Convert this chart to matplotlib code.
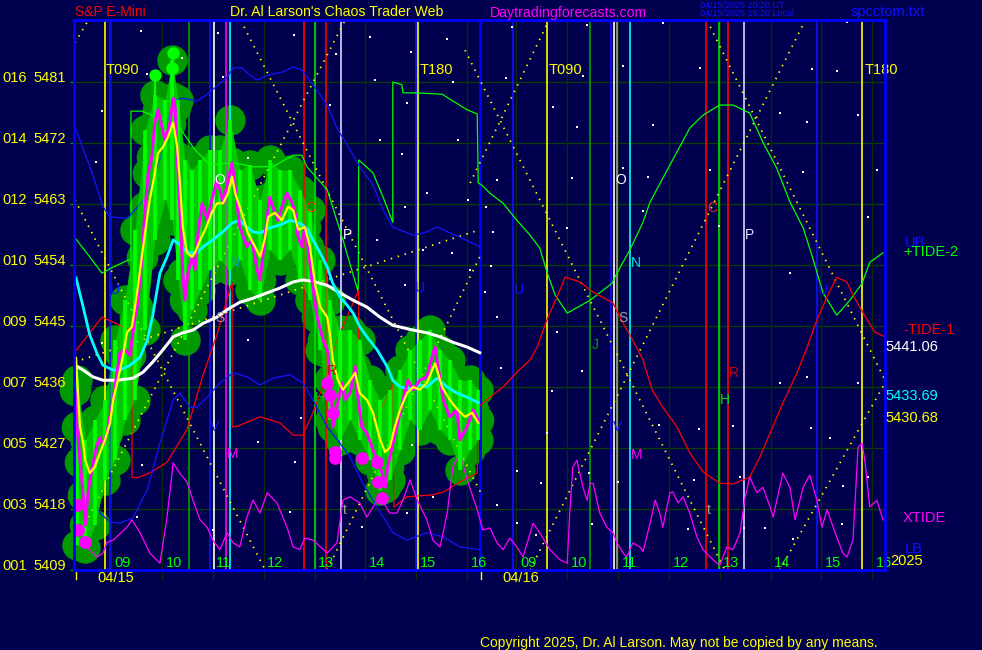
import matplotlib
matplotlib.use('Agg')
import matplotlib.pyplot as plt
from matplotlib.transforms import blended_transform_factory

plt.rcParams['font.family'] = ['Liberation Sans', 'DejaVu Sans']

BG = '#00004e'
W, H = 982, 650

# ---------------- axis definitions ----------------
x_min, x_max = 0.0, 15.95          # hours since 08:15 on 04/15 (two sessions)
y_min, y_max = 5409.0, 5490.15
grid_prices = [5409, 5418, 5427, 5436, 5445, 5454, 5463, 5472, 5481]
grid_codes = ['001', '003', '005', '007', '009', '010', '012', '014', '016']
hour_labels = ['09', '10', '11', '12', '13', '14', '15', '16']
hour_values = [9, 10, 11, 12, 13, 14, 15, 16]
day1_offset = 8.27
day2_offset = 0.30
day_starts = [0.03, 8.0]
day_names = ['04/15', '04/16']
day_label_x = [0.45, 8.42]

# ---------------- series ----------------
tide2_x = [0.02, 0.28, 0.55, 0.77, 1.06, 1.12, 1.12, 1.34, 1.53, 1.79, 2.08, 2.38, 2.67, 3.13, 3.52, 3.91,
           4.31, 4.48, 4.58, 4.98, 5.29, 5.59, 5.60, 5.88, 6.08, 6.27, 6.27, 6.45, 6.47, 6.71, 7.24, 7.73,
           7.93, 7.95, 8.02, 8.18, 8.44, 8.71, 8.97, 9.16, 9.30, 9.46, 9.70, 9.89, 10.15, 10.58, 10.68,
           10.93, 11.19, 11.33, 11.58, 11.86, 12.11, 12.37, 12.70, 12.96, 13.16, 13.29, 13.55, 13.82,
           14.08, 14.34, 14.53, 14.73, 15.00, 15.26, 15.50, 15.65, 15.91]
tide2_y = [5458.0, 5455.5, 5452.8, 5453.7, 5454.7, 5454.7, 5476.7, 5476.7, 5476.1, 5475.4, 5474.2, 5471.0,
           5468.8, 5469.1, 5468.5, 5468.5, 5470.2, 5470.2, 5468.5, 5465.1, 5457.7, 5450.0, 5469.5, 5467.6,
           5464.0, 5460.3, 5481.0, 5480.6, 5479.4, 5479.4, 5479.2, 5476.9, 5476.3, 5466.1, 5465.8, 5464.6,
           5463.1, 5460.6, 5458.4, 5456.5, 5453.0, 5449.6, 5446.9, 5447.7, 5448.8, 5451.3, 5452.8, 5456.2,
           5460.3, 5463.3, 5466.8, 5470.7, 5474.2, 5476.1, 5477.6, 5477.6, 5476.9, 5476.4, 5472.1, 5468.3,
           5463.3, 5459.5, 5455.0, 5449.9, 5446.6, 5448.8, 5451.3, 5454.4, 5455.8]

tide1_x = [0.02, 0.55, 0.77, 1.00, 1.14, 1.14, 1.24, 1.49, 1.83, 2.22, 2.54, 2.81, 3.09, 3.11, 3.11, 3.21,
           3.66, 4.05, 4.31, 4.50, 4.70, 4.94, 5.17, 5.43, 5.60, 5.60, 5.96, 6.27, 6.29, 6.55, 7.06, 7.26,
           7.59, 7.93, 7.95, 8.18, 8.44, 8.71, 8.97, 9.11, 9.30, 9.50, 9.66, 9.95, 10.21, 10.60, 10.80,
           10.99, 11.19, 11.37, 11.58, 11.86, 12.11, 12.37, 12.70, 12.96, 13.16, 13.29, 13.49, 13.69,
           13.94, 14.22, 14.42, 14.61, 14.81, 15.00, 15.20, 15.32, 15.52, 15.75, 15.95]
tide1_y = [5441.2, 5446.3, 5445.6, 5444.7, 5444.4, 5422.7, 5422.6, 5423.3, 5424.9, 5429.7, 5437.8, 5443.7,
           5451.0, 5451.3, 5430.1, 5430.2, 5431.6, 5430.7, 5428.9, 5428.9, 5432.2, 5437.0, 5442.9, 5447.4,
           5450.3, 5429.9, 5431.6, 5436.3, 5418.3, 5419.8, 5420.1, 5420.5, 5422.0, 5423.3, 5433.0, 5434.5,
           5436.0, 5438.2, 5440.0, 5441.9, 5445.9, 5449.3, 5452.2, 5451.5, 5450.0, 5448.4, 5445.4, 5442.9,
           5440.0, 5435.6, 5433.0, 5430.1, 5426.3, 5423.5, 5421.8, 5421.7, 5422.3, 5422.7, 5425.7, 5429.2,
           5433.6, 5438.1, 5441.9, 5445.9, 5449.3, 5452.2, 5451.5, 5449.6, 5446.9, 5444.1, 5443.4]

band_hi_x = [0.02, 0.26, 0.37, 0.57, 0.71, 1.04, 1.30, 1.49, 1.69, 1.85, 1.95, 2.14, 2.42, 2.62, 2.81,
             3.01, 3.13, 3.30, 3.46, 3.60, 3.80, 4.11, 4.31, 4.48, 4.70, 4.98, 5.17, 5.43, 5.62, 5.88,
             6.08, 6.27, 6.67, 6.94, 7.14, 7.59, 7.98]
band_hi_y = [5474.4, 5469.5, 5467.3, 5462.6, 5461.1, 5460.9, 5462.9, 5465.1, 5469.5, 5475.4, 5478.3,
             5478.6, 5478.2, 5479.2, 5480.4, 5481.7, 5483.1, 5483.1, 5482.0, 5481.3, 5482.0, 5482.5,
             5483.2, 5482.8, 5480.6, 5477.6, 5474.2, 5471.0, 5468.5, 5465.8, 5462.1, 5459.6, 5458.4,
             5458.9, 5459.6, 5458.1, 5456.7]

band_lo_x = [0.37, 0.51, 0.71, 0.90, 1.16, 1.44, 1.69, 1.95, 2.08, 2.28, 2.42, 2.62, 2.87, 3.13, 3.40,
             3.66, 3.91, 4.25, 4.50, 4.70, 4.98, 5.23, 5.43, 5.68, 5.96, 6.27, 6.55, 6.94, 7.26, 7.59, 7.98]
band_lo_y = [5419.3, 5417.4, 5416.1, 5415.9, 5416.7, 5420.8, 5427.7, 5434.1, 5435.1, 5433.0, 5433.0,
             5434.5, 5436.6, 5438.1, 5437.5, 5436.3, 5437.3, 5437.8, 5436.6, 5434.1, 5430.1, 5427.7,
             5425.7, 5421.8, 5418.3, 5414.5, 5413.4, 5414.5, 5413.9, 5412.4, 5412.0]

xtide_x = [0.22, 0.45, 0.57, 0.65, 0.77, 1.04, 1.14, 1.30, 1.49, 1.69, 1.83, 1.95, 2.08, 2.22, 2.34, 2.48,
           2.62, 2.73, 2.87, 3.01, 3.13, 3.26, 3.40, 3.52, 3.66, 3.80, 3.99, 4.19, 4.31, 4.44, 4.54, 4.70,
           4.98, 5.17, 5.29, 5.43, 5.62, 5.76, 5.88, 6.02, 6.21, 6.35, 6.47, 6.61, 6.75, 6.94, 7.06, 7.20,
           7.34, 7.45, 7.59, 7.73, 7.93, 8.04, 8.18, 8.32, 8.44, 8.57, 8.71, 8.83, 9.03, 9.16, 9.36, 9.56,
           9.70, 9.75, 9.81, 9.89, 10.01, 10.09, 10.15, 10.21, 10.34, 10.48, 10.60, 10.68, 10.80, 10.87,
           10.99, 11.13, 11.19, 11.33, 11.43, 11.52, 11.58, 11.72, 11.78, 11.88, 11.98, 12.11, 12.25,
           12.37, 12.57, 12.70, 12.84, 12.96, 13.10, 13.20, 13.29, 13.43, 13.55, 13.69, 13.75, 13.94,
           14.08, 14.18, 14.34, 14.47, 14.61, 14.71, 14.81, 14.93, 15.12, 15.20, 15.32, 15.42, 15.50,
           15.56, 15.65, 15.79, 15.91]
xtide_y = [5412.7, 5410.9, 5411.5, 5413.1, 5413.4, 5415.3, 5416.4, 5414.5, 5411.5, 5410.0, 5416.8, 5424.8,
           5423.3, 5422.0, 5419.3, 5416.4, 5415.3, 5413.4, 5412.0, 5414.5, 5413.0, 5412.4, 5416.8, 5419.3,
           5417.4, 5420.4, 5418.9, 5415.3, 5412.4, 5412.0, 5413.7, 5413.4, 5411.5, 5413.0, 5419.3, 5419.8,
           5418.9, 5416.8, 5418.3, 5419.8, 5417.4, 5417.4, 5419.3, 5422.3, 5419.3, 5416.4, 5413.4, 5412.4,
           5417.4, 5424.2, 5426.3, 5422.3, 5417.9, 5414.9, 5415.2, 5413.0, 5412.0, 5413.7, 5412.4, 5410.9,
           5415.9, 5414.5, 5412.0, 5410.5, 5410.0, 5417.4, 5424.2, 5425.2, 5421.2, 5419.3, 5421.8, 5421.8,
           5417.4, 5415.3, 5414.5, 5413.0, 5411.5, 5410.9, 5413.0, 5412.4, 5411.7, 5415.9, 5419.3, 5417.4,
           5415.3, 5420.4, 5420.5, 5418.9, 5419.8, 5417.4, 5413.9, 5412.0, 5410.5, 5409.7, 5412.4, 5412.0,
           5414.5, 5419.8, 5422.7, 5420.4, 5421.2, 5418.3, 5416.8, 5423.3, 5421.2, 5416.4, 5421.2, 5423.0,
           5419.3, 5415.3, 5417.9, 5415.3, 5411.5, 5410.9, 5413.4, 5427.1, 5427.7, 5424.8, 5418.3, 5419.3,
           5416.4]

price_x = [0.02, 0.06, 0.12, 0.18, 0.22, 0.28, 0.35, 0.45, 0.51, 0.57, 0.65, 0.77, 0.90, 1.00, 1.10, 1.20,
           1.24, 1.34, 1.40, 1.46, 1.53, 1.59, 1.65, 1.73, 1.79, 1.89, 1.95, 1.99, 2.03, 2.08, 2.14, 2.18,
           2.24, 2.32, 2.38, 2.44, 2.52, 2.62, 2.71, 2.81, 2.87, 2.93, 3.03, 3.11, 3.17, 3.26, 3.40, 3.50,
           3.60, 3.66, 3.72, 3.80, 3.85, 3.91, 4.01, 4.11, 4.19, 4.29, 4.35, 4.41, 4.48, 4.54, 4.60, 4.68,
           4.78, 4.90, 5.00, 5.03, 5.07, 5.09, 5.17, 5.27, 5.33, 5.43, 5.53, 5.59, 5.66, 5.76, 5.86, 5.96,
           6.06, 6.12, 6.17, 6.27, 6.35, 6.47, 6.57, 6.67, 6.80, 6.94, 7.04, 7.10, 7.16, 7.26, 7.39, 7.53,
           7.59, 7.73, 7.85, 7.95]
price_y = [5435.6, 5430.1, 5424.9, 5420.1, 5415.6, 5420.8, 5423.8, 5427.4, 5428.5, 5427.4, 5429.2, 5434.1,
           5441.0, 5441.5, 5440.7, 5446.3, 5447.8, 5455.2, 5462.6, 5467.6, 5469.9, 5475.0, 5476.9, 5474.4,
           5472.4, 5475.0, 5478.6, 5477.3, 5469.9, 5462.6, 5452.8, 5448.8, 5452.8, 5455.2, 5453.3, 5458.7,
           5463.1, 5460.6, 5463.6, 5466.5, 5465.1, 5463.1, 5466.5, 5469.1, 5465.5, 5459.6, 5456.7, 5457.7,
           5453.3, 5451.8, 5455.8, 5461.1, 5464.0, 5462.6, 5460.6, 5463.1, 5464.6, 5463.1, 5461.7, 5458.1,
           5456.7, 5459.6, 5456.7, 5451.8, 5446.3, 5442.9, 5441.0, 5437.0, 5433.0, 5430.1, 5433.0, 5436.6,
           5434.1, 5435.1, 5439.0, 5434.1, 5430.1, 5429.2, 5427.1, 5425.2, 5423.3, 5421.2, 5424.2, 5427.7,
           5430.1, 5434.1, 5437.0, 5435.6, 5437.0, 5437.5, 5440.4, 5441.9, 5439.0, 5434.1, 5431.6, 5432.6,
           5428.2, 5430.1, 5432.6, 5431.1]

bar_x = [0.06, 0.22, 0.41, 0.61, 0.81, 1.00, 1.20, 1.40, 1.59, 1.79, 1.93, 2.05, 2.18, 2.32, 2.48, 2.67,
         2.87, 3.07, 3.26, 3.46, 3.66, 3.85, 4.05, 4.25, 4.44, 4.64, 4.84, 5.03, 5.23, 5.43, 5.62, 5.82,
         6.02, 6.21, 6.41, 6.61, 6.80, 7.00, 7.20, 7.39, 7.59, 7.79, 7.95]
bar_hi = [5437.0, 5428.2, 5431.1, 5434.1, 5442.9, 5448.8, 5459.2, 5473.9, 5479.1, 5478.3, 5484.2, 5478.3,
          5469.5, 5468.0, 5469.5, 5471.0, 5471.0, 5475.4, 5468.0, 5468.8, 5463.6, 5469.5, 5468.0, 5468.0,
          5465.1, 5462.1, 5454.7, 5448.8, 5444.4, 5444.4, 5442.9, 5437.0, 5434.1, 5435.6, 5438.5, 5441.5,
          5442.9, 5444.4, 5441.5, 5440.0, 5437.0, 5437.0, 5435.6]
bar_lo = [5412.7, 5412.2, 5415.6, 5422.3, 5425.2, 5431.1, 5434.1, 5444.4, 5457.7, 5463.6, 5460.6, 5451.8,
          5442.9, 5447.4, 5450.3, 5453.3, 5454.7, 5453.3, 5454.7, 5450.3, 5448.8, 5456.2, 5454.7, 5456.2,
          5451.8, 5448.8, 5441.5, 5431.1, 5428.2, 5431.1, 5428.2, 5425.2, 5420.8, 5422.3, 5426.7, 5431.1,
          5429.7, 5432.6, 5429.7, 5428.2, 5423.8, 5426.7, 5428.2]

fast_x = [0.04, 0.08, 0.12, 0.18, 0.22, 0.31, 0.41, 0.51, 0.61, 0.71, 0.77, 0.85, 0.96, 1.04, 1.14, 1.24,
          1.36, 1.49, 1.59, 1.65, 1.75, 1.85, 1.95, 2.03, 2.08, 2.14, 2.22, 2.32, 2.38, 2.48, 2.58, 2.71,
          2.81, 2.93, 3.03, 3.11, 3.17, 3.30, 3.42, 3.56, 3.66, 3.76, 3.82, 3.95, 4.09, 4.21, 4.31, 4.41,
          4.54, 4.64, 4.74, 4.84, 4.98, 5.03, 5.09, 5.19, 5.29, 5.43, 5.53, 5.62, 5.76, 5.88, 6.02, 6.12,
          6.21, 6.31, 6.41, 6.55, 6.67, 6.80, 6.94, 7.10, 7.24, 7.39, 7.55, 7.69, 7.83, 7.95]
fast_y = [5440.3, 5434.8, 5430.1, 5427.7, 5425.2, 5423.3, 5424.2, 5426.3, 5428.2, 5430.7, 5434.1, 5436.6,
          5440.4, 5444.0, 5444.9, 5449.9, 5456.7, 5463.6, 5467.6, 5470.5, 5471.4, 5472.9, 5475.0, 5471.4,
          5466.5, 5459.6, 5455.8, 5455.2, 5455.8, 5457.7, 5459.2, 5461.7, 5463.1, 5463.1, 5464.6, 5467.0,
          5464.6, 5461.7, 5458.7, 5456.7, 5455.2, 5458.1, 5461.1, 5461.7, 5460.6, 5462.6, 5462.1, 5459.2,
          5459.6, 5456.7, 5451.3, 5447.8, 5446.3, 5444.0, 5440.0, 5437.0, 5435.6, 5437.0, 5438.1, 5435.1,
          5434.1, 5432.2, 5428.2, 5426.4, 5427.1, 5430.1, 5432.6, 5435.1, 5436.0, 5435.6, 5436.6, 5439.5,
          5436.0, 5434.1, 5432.6, 5431.6, 5432.2, 5430.68]

mid_x = [0.04, 0.18, 0.31, 0.45, 0.57, 0.77, 0.90, 1.10, 1.30, 1.44, 1.55, 1.69, 1.83, 1.95, 2.05, 2.18,
         2.28, 2.42, 2.54, 2.73, 2.93, 3.11, 3.26, 3.40, 3.52, 3.66, 3.85, 4.05, 4.25, 4.39, 4.50, 4.60,
         4.70, 4.84, 4.98, 5.09, 5.23, 5.37, 5.49, 5.62, 5.76, 5.96, 6.16, 6.27, 6.41, 6.61, 6.80, 6.94,
         7.14, 7.34, 7.53, 7.73, 7.95]
mid_y = [5452.1, 5447.8, 5443.7, 5441.0, 5439.2, 5438.5, 5438.5, 5439.2, 5440.4, 5442.9, 5446.6, 5452.8,
         5455.2, 5457.7, 5457.2, 5456.2, 5455.8, 5455.8, 5456.7, 5457.7, 5458.9, 5460.2, 5460.6, 5459.6,
         5458.9, 5458.7, 5459.5, 5459.9, 5460.6, 5460.3, 5459.9, 5459.2, 5457.7, 5455.8, 5453.7, 5451.3,
         5449.3, 5448.1, 5446.9, 5444.9, 5443.4, 5441.5, 5439.0, 5437.0, 5436.0, 5435.8, 5436.3, 5436.0,
         5437.3, 5436.0, 5435.1, 5434.5, 5433.69]

slow_x = [0.02, 0.18, 0.37, 0.57, 0.85, 1.16, 1.36, 1.55, 1.75, 1.95, 2.14, 2.34, 2.54, 2.81, 3.01, 3.26,
          3.52, 3.80, 4.05, 4.31, 4.50, 4.70, 4.98, 5.23, 5.49, 5.76, 6.02, 6.27, 6.67, 6.94, 7.20, 7.45,
          7.73, 7.98]
slow_y = [5439.2, 5438.5, 5437.5, 5437.0, 5437.0, 5437.3, 5438.2, 5439.7, 5441.5, 5443.4, 5444.0, 5444.4,
          5445.4, 5446.3, 5447.4, 5448.5, 5449.1, 5449.9, 5450.6, 5451.5, 5451.8, 5451.6, 5451.0, 5449.9,
          5448.8, 5447.8, 5446.3, 5445.1, 5444.4, 5444.0, 5443.4, 5442.6, 5441.9, 5441.06]

low_mark_x = [0.06, 0.08, 0.22, 4.98, 5.03, 5.09, 5.13, 5.13, 5.66, 5.96, 5.98, 6.06]
low_mark_y = [5418.6, 5414.9, 5413.1, 5436.6, 5434.8, 5432.2, 5426.4, 5425.5, 5425.5, 5424.9, 5422.0, 5419.6]

high_mark_x = [1.59, 1.95, 1.93]
high_mark_y = [5482.0, 5485.3, 5483.1]
high_mark_base = [5479.1, 5478.3, 5478.3]

# timing lines (hours) and their colours
vline_x = [0.60, 0.71, 2.26, 2.67, 2.76, 2.98, 3.07, 4.53, 4.73, 4.96, 5.26, 6.73, 6.77,
           8.64, 9.31, 10.15, 10.57, 10.63, 10.68, 10.94, 12.43, 12.69, 12.87, 13.18, 14.62, 15.50]
vline_c = ['#ffff00', '#1010ff', '#00a000', '#1010ff', '#ffffff', '#ff00ff', '#00ffff', '#ff0000',
           '#00e000', '#ff0000', '#d8d8ff', '#1010ff', '#ffff00',
           '#1010ff', '#ffff00', '#00a000', '#1010ff', '#ffffff', '#a0a0a0', '#00ffff', '#ff0000',
           '#00e000', '#ff0000', '#d8d8ff', '#1010ff', '#ffff00']

# dotted angle lines: (x0, y0, x1, y1)
ang_x0 = [0.02, 0.02, 0.02, 3.28, 0.02, 4.98, 7.69, 7.79, 8.97, 12.45, 13.88]
ang_y0 = [5486.8, 5463.6, 5413.0, 5490.1, 5439.7, 5409.0, 5485.7, 5466.1, 5409.0, 5490.1, 5409.0]
ang_x1 = [0.28, 3.76, 5.33, 8.02, 7.98, 7.98, 12.80, 9.34, 14.38, 15.95, 15.95]
ang_y1 = [5490.1, 5409.0, 5490.1, 5420.1, 5459.2, 5455.2, 5409.0, 5490.1, 5490.1, 5437.0, 5436.6]

# scattered event dots
dot_x = [1.32, 2.83, 4.33, 5.82, 7.34, 8.61, 10.09, 11.58, 15.20, 0.55, 1.44, 2.12, 2.93, 5.15, 6.63,
         5.92, 7.45, 6.55, 5.03, 6.02, 7.55, 6.45, 0.43, 3.42, 0.55, 1.34, 3.42, 4.46, 3.62, 4.35, 6.65,
         7.06, 8.32, 4.25, 2.73, 1.24, 5.66, 6.55, 6.94, 7.75, 6.51, 8.24, 5.96, 6.86, 7.43, 6.51, 7.79,
         8.08, 8.32, 8.50, 10.01, 9.42, 9.89, 11.39, 13.88, 14.42, 15.42, 10.80, 12.51, 14.34, 15.79,
         8.32, 9.79, 11.29, 8.10, 15.61, 9.70, 12.68, 11.19, 8.20, 14.08, 9.50, 8.40, 9.99, 9.40, 9.30,
         11.50, 12.29, 12.96, 14.49, 15.42, 14.42, 13.88, 14.87, 8.71, 9.18, 10.13, 10.70, 12.19, 13.10,
         15.12, 15.61, 8.71, 9.09, 10.19, 12.07, 13.59, 14.14, 15.10, 13.18, 10.80, 12.31, 14.51, 15.00]
dot_y = [5488.5, 5488.2, 5487.9, 5487.6, 5487.3, 5489.1, 5489.4, 5489.7, 5489.9, 5476.7, 5482.2, 5484.5,
         5481.7, 5485.1, 5485.4, 5481.3, 5481.0, 5477.9, 5477.6, 5472.4, 5472.4, 5470.4, 5469.2, 5469.8,
         5442.5, 5424.5, 5442.9, 5431.4, 5427.9, 5424.9, 5427.4, 5419.8, 5418.6, 5417.6, 5414.9, 5416.8,
         5415.3, 5417.4, 5464.6, 5463.6, 5462.6, 5458.9, 5457.7, 5456.2, 5455.8, 5451.0, 5453.3, 5450.0,
         5446.3, 5481.6, 5481.9, 5477.3, 5474.4, 5474.7, 5476.4, 5475.1, 5476.1, 5468.3, 5468.0, 5467.7,
         5468.0, 5466.5, 5466.8, 5467.0, 5462.6, 5461.1, 5459.5, 5459.8, 5462.0, 5453.9, 5452.8, 5444.1,
         5438.8, 5438.4, 5435.4, 5429.2, 5430.4, 5429.8, 5430.2, 5429.9, 5436.6, 5437.5, 5436.6, 5428.5,
         5423.6, 5421.8, 5423.3, 5422.0, 5422.3, 5422.7, 5421.4, 5422.7, 5415.9, 5414.2, 5415.8, 5415.1,
         5415.2, 5413.6, 5415.8, 5415.2, 5483.4, 5483.1, 5482.9, 5482.6]

# annotation letters: text, x(hours), price, colour
let_t = ['O', 'P', 'C', 'U', 'U', 'N', 'S', 'M', 'R', 'H', 't', 'V',
         'O', 'N', 'C', 'P', 'U', 'U', 'S', 'J', 'R', 'H', 'V', 'M', 't']
let_x = [2.87, 5.37, 4.64, 0.81, 6.80, 3.17, 2.87, 3.11, 5.07, 4.84, 5.33, 2.77,
         10.76, 11.05, 12.55, 13.29, 8.75, 14.73, 10.80, 10.25, 12.98, 12.80, 10.70, 11.07, 12.49]
let_y = [5466.5, 5458.4, 5462.4, 5450.3, 5450.6, 5454.3, 5446.2, 5426.1, 5438.3, 5434.4, 5417.9, 5430.1,
         5466.5, 5454.3, 5462.4, 5458.4, 5450.3, 5450.3, 5446.2, 5442.2, 5438.1, 5434.1, 5430.1, 5426.0,
         5417.9]
let_c = ['#ffffff', '#ffffff', '#ff2020', '#1010ff', '#1010ff', '#00a0a0', '#a0a0a0', '#ff00ff', '#d00000',
         '#00c000', '#a0a0a0', '#1010ff',
         '#ffffff', '#00e0e0', '#ff2020', '#e0e0ff', '#1010ff', '#1010ff', '#a0a0a0', '#00a000', '#d00000',
         '#00e000', '#1010ff', '#ff00ff', '#a0a0a0']

cycle_t = ['T090', 'T180', 'T090', 'T180']
cycle_x = [0.62, 6.80, 9.34, 15.54]
cycle_y = 5482.8

# ---------------- figure ----------------
fig = plt.figure(figsize=(W / 100, H / 100), dpi=100, facecolor=BG)
ax = fig.add_axes([74 / W, 80 / H, 811 / W, 550 / H])
ax.set_facecolor(BG)
ax.set_xlim(x_min, x_max)
ax.set_ylim(y_min, y_max)

hour_x = [h - day1_offset for h in hour_values] + [h - day2_offset for h in hour_values]

# grid
for p in grid_prices:
    ax.axhline(p, color='#0b3d0b', lw=1.0, zorder=1)
for hx in hour_x:
    ax.axvline(hx, color='#0a2a0a', lw=1.0, zorder=1)

ax.set_xticks(hour_x)
ax.set_yticks(grid_prices)
ax.tick_params(axis='x', length=7, width=1, color='#0a2a0a', labelbottom=False)
ax.tick_params(axis='y', length=3, width=1, color='#00a000', labelleft=False)

# price blobs (dark green)
blob_c = '#009a00'
ax.scatter(price_x, price_y, s=520, color=blob_c, lw=0, zorder=3, clip_on=False)
ax.scatter(bar_x, bar_hi, s=480, color=blob_c, lw=0, zorder=3, clip_on=False)
ax.scatter(bar_x, bar_lo, s=480, color=blob_c, lw=0, zorder=3, clip_on=False)
ax.fill_between(bar_x, bar_lo, bar_hi, color=blob_c, lw=0, zorder=3)

# timing lines
for vx, vc in zip(vline_x, vline_c):
    ax.axvline(vx, color=vc, lw=1.2, zorder=4)
ax.axvline(7.99, color='#0000ff', lw=2.0, zorder=4)

# dotted angle lines
for x0, y0, x1, y1 in zip(ang_x0, ang_y0, ang_x1, ang_y1):
    ax.plot([x0, x1], [y0, y1], color='#ffff00', lw=1.3, ls=(0, (0.8, 3.2)), zorder=4)

# event dots
ax.scatter(dot_x, dot_y, s=2.5, marker='s', color='#ffffff', lw=0, zorder=4)

# tides and bands
ax.plot(tide2_x, tide2_y, color='#00ff00', lw=0.9, zorder=5)
ax.plot(tide1_x, tide1_y, color='#ff0000', lw=0.9, zorder=5)
ax.plot(band_hi_x, band_hi_y, color='#1414ff', lw=0.9, zorder=5)
ax.plot(band_lo_x, band_lo_y, color='#1414ff', lw=0.9, zorder=5)
ax.plot(xtide_x, xtide_y, color='#ff00ff', lw=0.9, zorder=5)

# bright price bars
ax.fill_between(bar_x, bar_lo, bar_hi, color='#00ff00', alpha=0.45, lw=0, zorder=6)
ax.vlines(bar_x, bar_lo, bar_hi, color='#00ff00', lw=2.6, zorder=6)
ax.vlines(high_mark_x, high_mark_base, high_mark_y, color='#00ff00', lw=1.5, zorder=6)
ax.scatter(high_mark_x, high_mark_y, s=80, color='#00ff00', lw=0, zorder=6)

# averages and price
ax.plot(slow_x, slow_y, color='#ffffff', lw=2.2, zorder=7)
ax.plot(mid_x, mid_y, color='#00ffff', lw=2.0, zorder=7)
ax.plot(price_x, price_y, color='#ff00ff', lw=2.2, zorder=8)
ax.plot(fast_x, fast_y, color='#ffff00', lw=1.6, zorder=8)
ax.scatter(low_mark_x, low_mark_y, s=85, color='#ff00ff', lw=0, zorder=9)

# letters
for t, lx, ly, lc in zip(let_t, let_x, let_y, let_c):
    ax.text(lx, ly, t, color=lc, fontsize=10, ha='center', va='center', zorder=10)
for t, cx in zip(cycle_t, cycle_x):
    ax.text(cx, cycle_y, t, color='#ffff00', fontsize=10.5, ha='left', va='center', zorder=10,
            clip_on=False)

# hour labels inside bottom
for i, lab in enumerate(hour_labels):
    ax.text(hour_values[i] - day1_offset + 0.07, 5410.1, lab, color='#00ff00', fontsize=10.5,
            ha='left', va='center', zorder=10)
    ax.text(hour_values[i] - day2_offset + 0.07, 5410.1, lab, color='#00ff00', fontsize=10.5,
            ha='left', va='center', zorder=10, clip_on=False)

# day ticks / labels below axis
trans = blended_transform_factory(ax.transData, ax.transAxes)
for dx in day_starts:
    ax.plot([dx, dx], [-0.004, -0.016], color='#ffff00', lw=1.0, transform=trans, clip_on=False)
for dl, dn in zip(day_label_x, day_names):
    ax.text(dl, -0.015, dn, color='#ffff00', fontsize=10.5, ha='left', va='center', transform=trans)

# left price labels
ytrans = blended_transform_factory(ax.transAxes, ax.transData)
for code, p in zip(grid_codes, grid_prices):
    ax.text(-0.0888, p + 0.65, code, color='#ffff00', fontsize=10.5, ha='left', va='center',
            transform=ytrans)
    ax.text(-0.0506, p + 0.65, str(p), color='#ffff00', fontsize=10.5, ha='left', va='center',
            transform=ytrans)

for s in ax.spines.values():
    s.set_color('#0000ff')
    s.set_linewidth(2.0)
    s.set_zorder(11)


def ftext(px, py, s, color, size=10.5, **kw):
    fig.text(px / W, 1 - py / H, s, color=color, fontsize=size, va='center', **kw)


ftext(75, 12.5, 'S&P E-Mini', '#ff0000', size=10)
ftext(230, 12.5, "Dr. Al Larson's Chaos Trader Web", '#ffff00', size=10.2)
ftext(490, 12.5, 'Daytradingforecasts.com', '#ff00ff', size=10.2)
ftext(700, 5, '04/15/2025 20:20 UT', '#1010ff', size=6.5)
ftext(700, 14, '04/15/2025 15:20 Local', '#1010ff', size=6.5)
ftext(851, 12, 'spcctom.txt', '#1010ff', size=10.5)
ftext(480, 643, 'Copyright 2025, Dr. Al Larson. May not be copied by any means.', '#ffff00', size=10)

ftext(905, 243, 'UB', '#1010ff')
ftext(903, 252, '+TIDE-2', '#00ff00')
ftext(903, 330, '-TIDE-1', '#ff0000')
ftext(885, 347, '5441.06', '#ffffff')
ftext(885, 396, '5433.69', '#00ffff')
ftext(885, 418, '5430.68', '#ffff00')
ftext(903, 518, 'XTIDE', '#ff00ff')
ftext(905, 549, 'LB', '#1010ff')
ftext(890, 561, '2025', '#ffff00')

fig.savefig('out.png', dpi=100, facecolor=BG)
